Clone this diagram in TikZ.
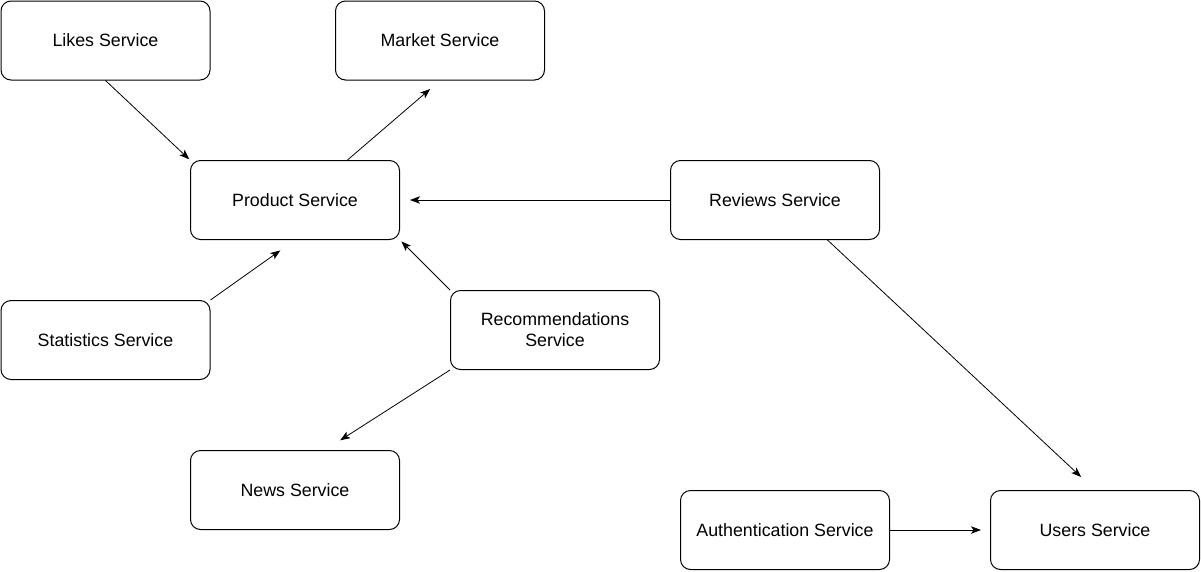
\documentclass[tikz,border=0pt]{standalone}
\usepackage{fontspec}
\setmainfont{Liberation Sans}
\usetikzlibrary{arrows.meta,calc}
\begin{document}
\begin{tikzpicture}[x=1pt,y=-1pt,
  svc/.style={draw,rounded corners=10pt,line width=1pt,minimum width=209pt,minimum height=79pt,
    align=center,inner sep=0pt,font=\fontsize{17.8}{21}\selectfont},
  arr/.style={line width=0.8pt,-{Stealth[length=10pt,width=7.5pt,inset=2.5pt]}}]
\useasboundingbox (0,0) rectangle (1201,571);
\node[svc] (likes) at (105.5,40.5) {Likes Service};
\node[svc] (market) at (440,40.5) {Market Service};
\node[svc] (product) at (295,200) {Product Service};
\node[svc] (reviews) at (775,200) {Reviews Service};
\node[svc] (stats) at (105.5,340) {Statistics Service};
\node[svc] (rec) at (555,330) {Recommendations\\Service};
\node[svc] (news) at (295,490) {News Service};
\node[svc] (auth) at (785,530) {Authentication Service};
\node[svc] (users) at (1095,530) {Users Service};
\coordinate (newsin) at ($(news.north)+(30,0)$);
\draw[arr,shorten >=1pt] (likes.south) -- (product.north west);
\draw[arr,shorten >=13pt] ($(product.north)!0.5!(product.north east)$) -- (market.south);
\draw[arr,shorten >=10pt] (reviews.west) -- (product.east);
\draw[arr,shorten >=18pt] (stats.north east) -- (product.south);
\draw[arr,shorten >=2pt] (rec.north west) -- (product.south east);
\draw[arr,shorten >=18pt] (rec.south west) -- (newsin);
\draw[arr,shorten >=19pt] ($(reviews.south)!0.5!(reviews.south east)$) -- (users.north);
\draw[arr,shorten >=9pt] (auth.east) -- (users.west);
\end{tikzpicture}
\end{document}
